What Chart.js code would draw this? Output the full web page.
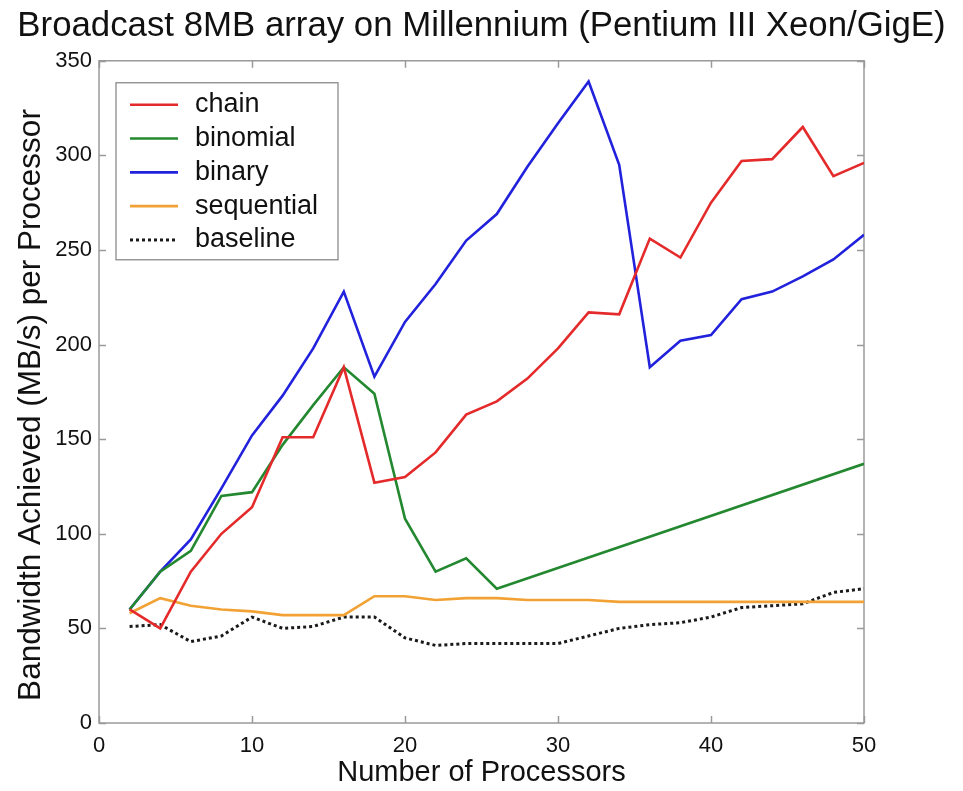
<!DOCTYPE html>
<html>
<head>
<meta charset="utf-8">
<title>Broadcast 8MB array on Millennium</title>
<script src="https://cdn.jsdelivr.net/npm/chart.js@4.4.1/dist/chart.umd.min.js"></script>
<style>
  html, body { margin: 0; padding: 0; background: #fff; }
  canvas { display: block; }
</style>
</head>
<body>
<canvas id="chartBroadcast" width="963" height="791"></canvas>
<script>
// processors on the x axis
const procs = [2, 4, 6, 8, 10, 12, 14, 16, 18, 20, 22, 24, 26, 28, 30, 32, 34, 36, 38, 40, 42, 44, 46, 48, 50];

// bandwidth per processor (MB/s)
const chain = [60, 50, 80, 100, 114, 151, 151, 188, 127, 130, 143, 163, 170, 182, 198, 217, 216, 256, 246, 275, 297, 298, 315, 289, 296];
const binomial = [60, 80, 91, 120, 122, 147, 168, 188, 174, 108, 80, 87, 71, null, null, null, null, null, null, null, null, null, null, null, 137];
const binary = [60, 80, 97, 124, 152, 173, 198, 228, 183, 212, 232, 255, 269, 294, 317, 339, 295, 188, 202, 205, 224, 228, 236, 245, 258];
const sequential = [58, 66, 62, 60, 59, 57, 57, 57, 67, 67, 65, 66, 66, 65, 65, 65, 64, 64, 64, 64, 64, 64, 64, 64, 64];
const baseline = [51, 52, 43, 46, 56, 50, 51, 56, 56, 45, 41, 42, 42, 42, 42, 46, 50, 52, 53, 56, 61, 62, 63, 69, 71];

const xTicks = [0, 10, 20, 30, 40, 50];
const yTicks = [0, 50, 100, 150, 200, 250, 300, 350];

const FONT = "'Liberation Sans', Arial, Helvetica, sans-serif";
const AXIS_GRAY = '#9a9a9a';

const toPoints = values => procs.map((p, i) => ({ x: p, y: values[i] }));

const serie = (label, values, color, extra = {}) => Object.assign({
    label,
    data: toPoints(values),
    borderColor: color,
    backgroundColor: color,
    borderWidth: 2.6,
    pointRadius: 0,
    tension: 0,
    spanGaps: true,
    fill: false
}, extra);

// box around the plot with inward ticks on all four sides
const framePlugin = {
    id: 'frame',
    beforeDatasetsDraw(chart) {
        const { ctx, chartArea: a, scales: { x, y } } = chart;
        ctx.save();
        ctx.strokeStyle = AXIS_GRAY;
        ctx.lineWidth = 1.5;
        ctx.strokeRect(a.left, a.top, a.right - a.left, a.bottom - a.top);
        const len = 7;
        ctx.beginPath();
        xTicks.forEach(v => {
            const px = Math.round(x.getPixelForValue(v)) + 0.5;
            ctx.moveTo(px, a.bottom); ctx.lineTo(px, a.bottom - len);
            ctx.moveTo(px, a.top); ctx.lineTo(px, a.top + len);
        });
        yTicks.forEach(v => {
            const py = Math.round(y.getPixelForValue(v)) + 0.5;
            ctx.moveTo(a.left, py); ctx.lineTo(a.left + len, py);
            ctx.moveTo(a.right, py); ctx.lineTo(a.right - len, py);
        });
        ctx.stroke();
        ctx.restore();
    }
};

// legend drawn inside the plot, upper left
const innerLegend = {
    id: 'innerLegend',
    afterDatasetsDraw(chart) {
        const { ctx, chartArea: a } = chart;
        const boxX = a.left + 17, boxY = a.top + 22, boxW = 222, boxH = 177;
        ctx.save();
        ctx.fillStyle = '#ffffff';
        ctx.fillRect(boxX, boxY, boxW, boxH);
        ctx.strokeStyle = '#8a8a8a';
        ctx.lineWidth = 1.3;
        ctx.strokeRect(boxX, boxY, boxW, boxH);
        ctx.font = '27px ' + FONT;
        ctx.textBaseline = 'middle';
        ctx.textAlign = 'left';
        chart.data.datasets.forEach((ds, i) => {
            const rowY = boxY + 22 + i * 33.8;
            ctx.strokeStyle = ds.borderColor;
            ctx.lineWidth = ds.borderWidth;
            ctx.setLineDash(ds.borderDash || []);
            ctx.beginPath();
            ctx.moveTo(boxX + 14, rowY);
            ctx.lineTo(boxX + 62, rowY);
            ctx.stroke();
            ctx.setLineDash([]);
            ctx.fillStyle = '#111111';
            ctx.fillText(ds.label, boxX + 79, rowY);
        });
        ctx.restore();
    }
};

const ctx = document.getElementById('chartBroadcast').getContext('2d');
new Chart(ctx, {
    type: 'line',
    data: {
        datasets: [
            serie('chain', chain, '#e42a2a'),
            serie('binomial', binomial, '#23882f'),
            serie('binary', binary, '#2222dd'),
            serie('sequential', sequential, '#f2a234'),
            serie('baseline', baseline, '#1a1a1a', { borderDash: [3, 3], borderWidth: 3 })
        ]
    },
    options: {
        responsive: false,
        animation: false,
        devicePixelRatio: 1,
        layout: { padding: 0 },
        plugins: {
            legend: { display: false },
            tooltip: { enabled: false },
            title: {
                display: true,
                text: 'Broadcast 8MB array on Millennium (Pentium III Xeon/GigE)',
                color: '#111111',
                font: { family: FONT, size: 34.8, weight: 'normal' },
                padding: { top: 6, bottom: 13 }
            }
        },
        scales: {
            x: {
                type: 'linear',
                min: 0,
                max: 50,
                afterFit: scale => { scale.height = 68; },
                afterBuildTicks: scale => { scale.ticks = xTicks.map(v => ({ value: v })); },
                grid: { display: false, drawTicks: false },
                border: { display: false },
                ticks: {
                    color: '#111111',
                    font: { family: FONT, size: 22 },
                    padding: 10,
                    maxRotation: 0
                },
                title: {
                    display: true,
                    text: 'Number of Processors',
                    color: '#111111',
                    font: { family: FONT, size: 29 },
                    padding: { top: 0, bottom: 1 }
                }
            },
            y: {
                min: 0,
                max: 350,
                afterFit: scale => { scale.width = 99; },
                afterBuildTicks: scale => { scale.ticks = yTicks.map(v => ({ value: v })); },
                grid: { display: false, drawTicks: false },
                border: { display: false },
                ticks: {
                    color: '#111111',
                    font: { family: FONT, size: 22 },
                    padding: 7
                },
                title: {
                    display: true,
                    // trailing spaces nudge the label a little below the plot centre, as in the original
                    text: 'Bandwidth Achieved (MB/s) per Processor   ',
                    color: '#111111',
                    font: { family: FONT, size: 31.5 },
                    padding: { top: 12, bottom: 0 }
                }
            },
            // empty right-hand margin so the title stays centred on the page
            yRight: {
                position: 'right',
                min: 0,
                max: 350,
                afterFit: scale => { scale.width = 99; },
                grid: { display: false, drawTicks: false },
                border: { display: false },
                ticks: { display: false }
            }
        }
    },
    plugins: [framePlugin, innerLegend]
});
</script>
</body>
</html>
